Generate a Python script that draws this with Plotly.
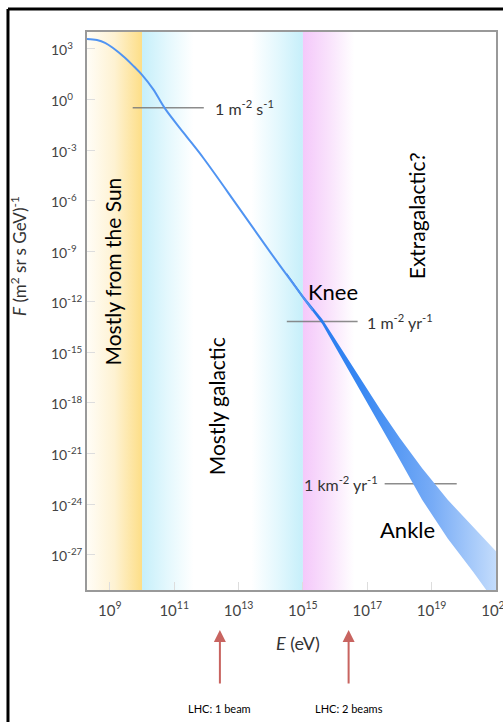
import plotly.graph_objects as go

# ---------------- data (log10 values) ----------------
line_logE = [8.29, 8.6, 8.85, 9.1, 9.47, 9.75, 10.0, 10.35, 10.7, 11.3, 11.9, 13.0, 14.0, 14.9, 15.3]
line_logF = [3.59, 3.52, 3.36, 3.05, 2.47, 1.95, 1.46, 0.6, -0.5, -2.0, -3.46, -6.4, -9.1, -11.46, -12.5]

band_logE  = [14.5, 15.0, 15.6, 16.5, 17.4, 18.0, 18.7, 19.5, 20.3, 21.0]
band_upper = [-10.3, -11.62, -13.02, -15.7, -18.38, -20.05, -21.87, -23.75, -25.35, -26.8]
band_lower = [-10.45, -11.82, -13.32, -16.3, -19.32, -21.35, -23.73, -26.05, -28.05, -29.9]

ref_labels = ["1 m<sup>-2</sup> s<sup>-1</sup>", "1 m<sup>-2</sup> yr<sup>-1</sup>", "1 km<sup>-2</sup> yr<sup>-1</sup>"]
ref_logF   = [-0.5, -13.18, -22.79]
ref_logE0  = [9.71, 14.5, 17.54]
ref_logE1  = [11.92, 16.7, 19.78]

x_tick_exp = [9, 11, 13, 15, 17, 19, 21]
y_tick_exp = [3, 0, -3, -6, -9, -12, -15, -18, -21, -24, -27]

lhc_labels = ["LHC: 1 beam", "LHC: 2 beams"]
lhc_logE = [12.42, 16.42]


def p10(v):
    return 10.0 ** v


def rgb(c):
    return "rgb(%d,%d,%d)" % c


# ---------------- figure ----------------
fig = go.Figure()

# background gradient regions: (start, end, colour stops)
regions = [
    (8.29, 10.0, [(0, (255, 253, 247)), (0.5, (254, 242, 210)), (1, (253, 222, 135))]),
    (10.0, 11.6, [(0, (198, 239, 250)), (0.5, (228, 248, 253)), (1, (255, 255, 255))]),
    (13.4, 15.0, [(0, (255, 255, 255)), (0.5, (228, 248, 253)), (1, (198, 239, 250))]),
    (15.0, 16.6, [(0, (244, 200, 250)), (0.5, (249, 226, 252)), (1, (255, 255, 255))]),
]
for a, b, stops in regions:
    fig.add_trace(go.Scatter(
        x=[p10(a), p10(b), p10(b), p10(a), p10(a)],
        y=[p10(-29.1), p10(-29.1), p10(4.0), p10(4.0), p10(-29.1)],
        mode="lines", line=dict(width=0), fill="toself",
        fillgradient=dict(type="horizontal", colorscale=[[s, rgb(c)] for s, c in stops]),
        hoverinfo="skip", showlegend=False))

# reference flux lines
for lab, f, e0, e1 in zip(ref_labels, ref_logF, ref_logE0, ref_logE1):
    fig.add_trace(go.Scatter(x=[p10(e0), p10(e1)], y=[p10(f), p10(f)], mode="lines",
                             line=dict(color="rgba(120,120,120,0.85)", width=1.5),
                             hoverinfo="skip", showlegend=False))

# uncertainty band (single polygon, gradient along energy)
band_x = [p10(v) for v in band_logE] + [p10(v) for v in band_logE[::-1]]
band_y = [p10(v) for v in band_upper] + [p10(v) for v in band_lower[::-1]]
fig.add_trace(go.Scatter(
    x=band_x + [band_x[0]], y=band_y + [band_y[0]], mode="lines", line=dict(width=0),
    fill="toself",
    fillgradient=dict(type="horizontal",
                      colorscale=[[0, "rgb(30,115,238)"], [0.35, "rgb(55,135,242)"],
                                  [0.7, "rgb(120,172,246)"], [1, "rgb(195,220,252)"]]),
    hoverinfo="skip", showlegend=False))

# main spectrum line
fig.add_trace(go.Scatter(x=[p10(v) for v in line_logE], y=[p10(v) for v in line_logF],
                         mode="lines", line=dict(color="rgb(80,148,242)", width=2, shape="spline"),
                         hoverinfo="skip", showlegend=False))

annotations = []
# reference line labels
small = dict(family="Lato", size=16, color="#333")
annotations.append(dict(x=12.2, y=-0.5, xref="x", yref="y", text=ref_labels[0], xanchor="left",
                        yanchor="middle", showarrow=False, font=small))
annotations.append(dict(x=16.92, y=-13.18, xref="x", yref="y", text=ref_labels[1], xanchor="left",
                        yanchor="middle", showarrow=False, font=small))
annotations.append(dict(x=17.39, y=-22.79, xref="x", yref="y", text=ref_labels[2], xanchor="right",
                        yanchor="middle", showarrow=False, font=small))

big = dict(family="Lato", size=21, color="black")
annotations += [
    dict(x=9.09, y=-10.22, xref="x", yref="y", text="Mostly from the Sun", textangle=-90, showarrow=False, font=big),
    dict(x=12.32, y=-18.22, xref="x", yref="y", text="Mostly galactic", textangle=-90, showarrow=False, font=big),
    dict(x=18.53, y=-6.9, xref="x", yref="y", text="Extragalactic?", textangle=-90, showarrow=False, font=big),
    dict(x=15.93, y=-11.4, xref="x", yref="y", text="Knee", showarrow=False,
         font=dict(family="Lato", size=22, color="black")),
    dict(x=18.25, y=-25.5, xref="x", yref="y", text="Ankle", showarrow=False,
         font=dict(family="Lato", size=22, color="black")),
]

# y tick labels (left aligned, as in the reference)
for e in y_tick_exp:
    annotations.append(dict(x=-0.093, y=e, xref="paper", yref="y", text="10<sup>%d</sup>" % e,
                            xanchor="left", yanchor="middle", showarrow=False,
                            font=dict(family="Lato", size=14, color="#444")))

# axis titles
annotations.append(dict(x=-0.1663, y=0.5986, xref="paper", yref="paper", textangle=-90,
                        xanchor="center", yanchor="middle",
                        text="<i>F</i> (m<sup>2</sup> sr s GeV)<sup>-1</sup>", showarrow=False,
                        font=dict(family="Lato", size=17, color="#333")))
annotations.append(dict(x=0.516, y=-0.095, xref="paper", yref="paper",
                        xanchor="center", yanchor="middle",
                        text="<i>E</i> (eV)", showarrow=False,
                        font=dict(family="Lato", size=18, color="#333")))

# LHC arrows and labels
for lab, e in zip(lhc_labels, lhc_logE):
    annotations.append(dict(x=e, y=-0.0717, xref="x", yref="paper", text="", showarrow=True,
                            ax=0, ay=55, arrowhead=2, arrowsize=1.2, arrowwidth=2,
                            arrowcolor="rgb(200,100,96)"))
    annotations.append(dict(x=e, y=-0.2115, xref="x", yref="paper", text=lab, showarrow=False,
                            xanchor="center", yanchor="middle",
                            font=dict(family="Lato", size=11, color="black")))

# outer black frame (top and left edges)
fig.add_shape(type="line", xref="paper", yref="paper", x0=-0.1932, x1=1.05, y0=1.0412, y1=1.0412,
              line=dict(color="black", width=3))
fig.add_shape(type="line", xref="paper", yref="paper", x0=-0.1932, x1=-0.1932, y0=1.0412, y1=-0.25,
              line=dict(color="black", width=3))

fig.update_layout(
    width=503, height=722,
    margin=dict(l=87, r=7, t=32, b=132, autoexpand=False),
    paper_bgcolor="white", plot_bgcolor="white",
    showlegend=False,
    annotations=annotations,
    xaxis=dict(type="log", range=[8.29, 21.0005],
               tickvals=[p10(v) for v in x_tick_exp],
               ticktext=["10<sup>%d</sup>" % v for v in x_tick_exp],
               ticks="inside", ticklen=8, tickcolor="#ddd", tickwidth=1,
               showline=True, linecolor="#999", linewidth=1.5, mirror=True,
               showgrid=False, zeroline=False, ticklabelstandoff=6,
               ticklabeloverflow="allow", automargin=False,
               tickfont=dict(family="Lato", size=15, color="#444")),
    yaxis=dict(type="log", range=[-29.1, 4.0],
               tickvals=[p10(v) for v in y_tick_exp],
               ticks="inside", ticklen=8, tickcolor="#ddd", tickwidth=1,
               showticklabels=False, automargin=False,
               showline=True, linecolor="#999", linewidth=1.5, mirror=True,
               showgrid=False, zeroline=False),
)

fig.write_html("out.html")
